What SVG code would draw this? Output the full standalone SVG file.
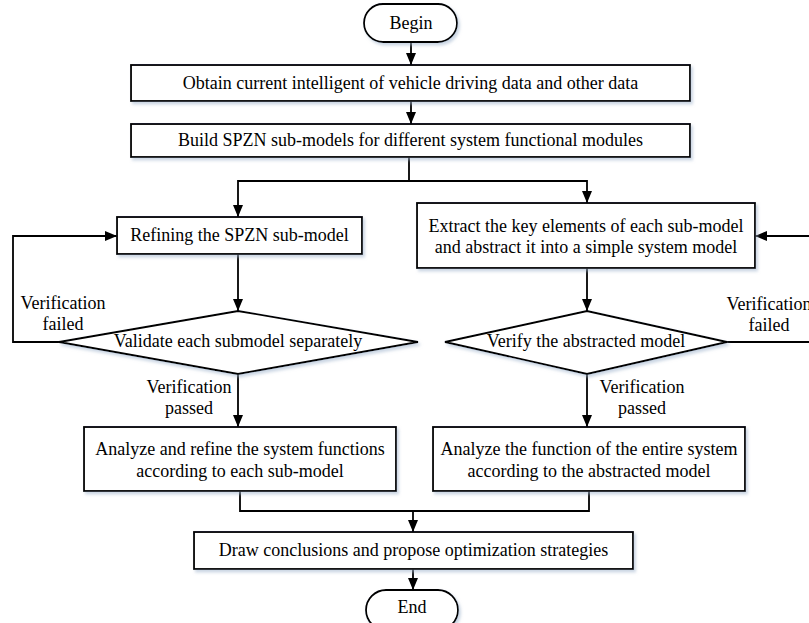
<svg xmlns="http://www.w3.org/2000/svg" width="809" height="623" viewBox="0 0 809 623">
  <defs>
    <marker id="arrow" viewBox="0 0 12 12" refX="12" refY="6" markerWidth="12" markerHeight="12" markerUnits="userSpaceOnUse" orient="auto">
      <path d="M0,1 L12,6 L0,11 Z" fill="#000"/>
    </marker>
    <filter id="shadow" x="-10%" y="-30%" width="120%" height="160%">
      <feDropShadow dx="2" dy="2.5" stdDeviation="1.8" flood-color="#9fb3cc" flood-opacity="0.55"/>
    </filter>
  </defs>
  <style>
    .shape { fill: #fff; stroke: #000; stroke-width: 1.8; filter: url(#shadow); }
    .edge { fill: none; stroke: #000; stroke-width: 1.8; }
    .arrowed { marker-end: url(#arrow); }
  </style>
  <rect width="809" height="623" fill="#fff"/>

  <!-- connectors -->
  <g id="connectors">
    <line class="edge arrowed" x1="411" y1="42" x2="411" y2="65"/>
    <line class="edge arrowed" x1="411" y1="101" x2="411" y2="124"/>
    <path class="edge" d="M409,157 V181"/>
    <path class="edge arrowed" d="M409,181 H238 V217"/>
    <path class="edge arrowed" d="M409,181 H587 V203"/>
    <line class="edge arrowed" x1="238" y1="254" x2="238" y2="311"/>
    <line class="edge arrowed" x1="587" y1="268" x2="587" y2="311"/>
    <path class="edge arrowed" d="M59,342 H13 V236 H117"/>
    <path class="edge arrowed" d="M727,342 H815 V236 H755"/>
    <line class="edge arrowed" x1="238" y1="374" x2="238" y2="427"/>
    <line class="edge arrowed" x1="587" y1="374" x2="587" y2="427"/>
    <path class="edge" d="M240,491 V511 H589 V491"/>
    <line class="edge arrowed" x1="413" y1="511" x2="413" y2="532"/>
    <line class="edge arrowed" x1="413" y1="569" x2="413" y2="590"/>
    <text x="63" y="309" font-family="Liberation Serif" font-size="18" text-anchor="middle">Verification</text>
    <text x="63" y="330" font-family="Liberation Serif" font-size="18" text-anchor="middle">failed</text>
    <text x="769" y="310" font-family="Liberation Serif" font-size="18" text-anchor="middle">Verification</text>
    <text x="769" y="331" font-family="Liberation Serif" font-size="18" text-anchor="middle">failed</text>
    <text x="189" y="393" font-family="Liberation Serif" font-size="18" text-anchor="middle">Verification</text>
    <text x="189" y="414" font-family="Liberation Serif" font-size="18" text-anchor="middle">passed</text>
    <text x="642" y="393" font-family="Liberation Serif" font-size="18" text-anchor="middle">Verification</text>
    <text x="642" y="414" font-family="Liberation Serif" font-size="18" text-anchor="middle">passed</text>
  </g>

  <g id="begin">
    <rect class="shape" x="364" y="4" width="93" height="38" rx="19" ry="19"/>
    <text x="411" y="29" font-family="Liberation Serif" font-size="18" text-anchor="middle">Begin</text>
  </g>
  <g id="obtain-data">
    <rect class="shape" x="131" y="65" width="559" height="36"/>
    <text x="410.5" y="89" font-family="Liberation Serif" font-size="18" text-anchor="middle">Obtain current intelligent of vehicle driving data and other data</text>
  </g>
  <g id="build-submodels">
    <rect class="shape" x="131" y="124" width="559" height="33"/>
    <text x="410.5" y="146" font-family="Liberation Serif" font-size="18" text-anchor="middle">Build SPZN sub-models for different system functional modules</text>
  </g>
  <g id="refine-submodel">
    <rect class="shape" x="117" y="217" width="245" height="37"/>
    <text x="239.5" y="241" font-family="Liberation Serif" font-size="18" text-anchor="middle">Refining the SPZN sub-model</text>
  </g>
  <g id="extract-elements">
    <rect class="shape" x="417" y="203" width="338" height="65"/>
    <text x="586" y="232" font-family="Liberation Serif" font-size="18" text-anchor="middle">Extract the key elements of each sub-model</text>
    <text x="586" y="253" font-family="Liberation Serif" font-size="18" text-anchor="middle">and abstract it into a simple system model</text>
  </g>
  <g id="validate-submodels">
    <polygon class="shape" points="59,342 238,311 418,342 238,374"/>
    <text x="238" y="347" font-family="Liberation Serif" font-size="18" text-anchor="middle">Validate each submodel separately</text>
  </g>
  <g id="verify-abstracted">
    <polygon class="shape" points="445,342 587,311 727,342 587,374"/>
    <text x="586" y="347" font-family="Liberation Serif" font-size="18" text-anchor="middle">Verify the abstracted model</text>
  </g>
  <g id="analyze-refine">
    <rect class="shape" x="84" y="427" width="312" height="64"/>
    <text x="240" y="455" font-family="Liberation Serif" font-size="18" text-anchor="middle">Analyze and refine the system functions</text>
    <text x="240" y="477" font-family="Liberation Serif" font-size="18" text-anchor="middle">according to each sub-model</text>
  </g>
  <g id="analyze-entire">
    <rect class="shape" x="433" y="427" width="312" height="64"/>
    <text x="589" y="455" font-family="Liberation Serif" font-size="18" text-anchor="middle">Analyze the function of the entire system</text>
    <text x="589" y="477" font-family="Liberation Serif" font-size="18" text-anchor="middle">according to the abstracted model</text>
  </g>
  <g id="conclusions">
    <rect class="shape" x="194" y="532" width="439" height="37"/>
    <text x="413.5" y="556" font-family="Liberation Serif" font-size="18" text-anchor="middle">Draw conclusions and propose optimization strategies</text>
  </g>
  <g id="end">
    <rect class="shape" x="366" y="590" width="92" height="40" rx="20" ry="20"/>
    <text x="412" y="613" font-family="Liberation Serif" font-size="18" text-anchor="middle">End</text>
  </g>
</svg>
